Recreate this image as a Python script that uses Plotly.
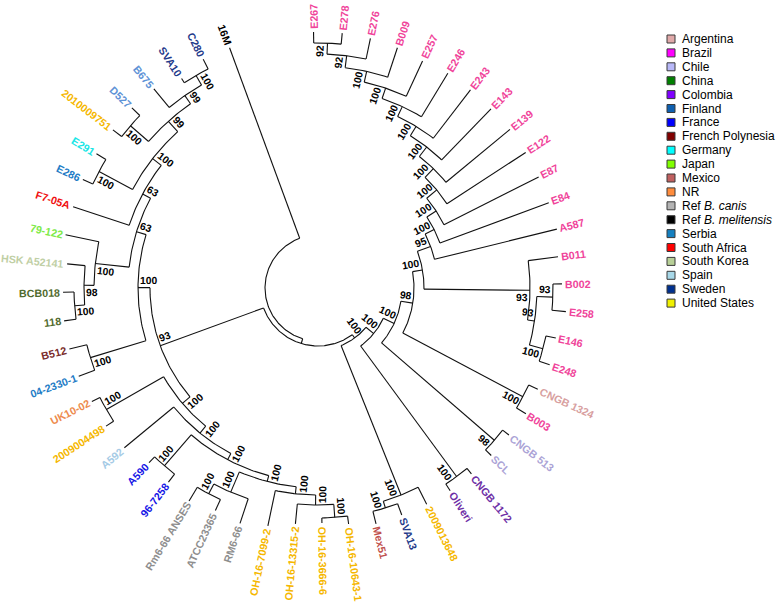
import math
import plotly.graph_objects as go

# ---------------- data ----------------
leaf_labels = ["E267", "E278", "E276", "B009", "E257", "E246", "E243", "E143", "E139", "E122",
               "E87", "E84", "A587", "B011", "B002", "E258", "E146", "E248", "CNGB 1324", "B003",
               "CNGB 513", "SCL", "CNGB 1172", "Oliveri", "2009013648", "SVA13", "Mex51",
               "OH-16-10643-1", "OH-16-3666-6", "OH-16-13315-2", "OH-16-7099-2", "RM6-66",
               "ATCC23365", "Rm6-66 ANSES", "96-7258", "A590", "A592", "2009004498", "UK10-02",
               "04-2330-1", "B512", "118", "BCB018", "HSK A52141", "79-122", "F7-05A", "E286",
               "E291", "2010009751", "D527", "B675", "SVA10", "C280", "16M"]
leaf_country = ["Brazil"] * 18 + ["Argentina", "Brazil", "Chile", "Chile", "Colombia", "Colombia",
                "United States", "Sweden", "Mexico", "United States", "United States", "United States",
                "United States", "Ref B. canis", "Ref B. canis", "Ref B. canis", "France", "France",
                "Spain", "United States", "NR", "Serbia", "French Polynesia", "China", "China",
                "South Korea", "Japan", "South Africa", "Serbia", "Germany", "United States",
                "Finland", "Finland", "Sweden", "Sweden", "Ref B. melitensis"]
leaf_depth = [256, 256, 255, 253, 250, 251, 250, 249, 249, 248,
              247, 246, 246, 242, 244, 249, 243, 244, 242, 243,
              241, 241, 241, 242, 242, 242, 243, 238, 235, 237,
              243, 248, 245, 249, 245, 243, 251, 253, 253, 255,
              256, 256, 255, 252, 258, 258, 259, 259, 259, 259,
              258, 250, 256, 256]

node_ids = ["p17", "p16", "p15", "p14", "p13", "p12", "p11", "p10", "p9", "p8", "p7", "p6",
            "bA", "bB", "bC", "bD", "p5", "c1", "p4", "c2", "p3", "c3", "p2", "m1", "m2", "NR",
            "o4", "o3", "o2", "r2", "r1", "H", "a1", "G", "F", "u1", "E",
            "s1", "k1", "k2", "k3", "w1", "w2", "d1", "w3", "g1", "w4", "w5", "w6", "U",
            "N93", "X", "root"]
node_children = [["E267", "E278"], ["p17", "E276"], ["p16", "B009"], ["p15", "E257"],
                 ["p14", "E246"], ["p13", "E243"], ["p12", "E143"], ["p11", "E139"],
                 ["p10", "E122"], ["p9", "E87"], ["p8", "E84"], ["p7", "A587"],
                 ["B002", "E258"], ["E248", "E146"], ["bA", "bB"], ["B011", "bC"], ["p6", "bD"],
                 ["B003", "CNGB 1324"], ["p5", "c1"], ["SCL", "CNGB 513"], ["p4", "c2"],
                 ["Oliveri", "CNGB 1172"], ["p3", "c3"], ["Mex51", "SVA13"], ["2009013648", "m1"],
                 ["p2", "m2"],
                 ["OH-16-10643-1", "OH-16-3666-6"], ["OH-16-13315-2", "o4"], ["OH-16-7099-2", "o3"],
                 ["Rm6-66 ANSES", "ATCC23365"], ["r2", "RM6-66"], ["r1", "o2"],
                 ["A590", "96-7258"], ["a1", "H"], ["A592", "G"], ["UK10-02", "2009004498"],
                 ["u1", "F"],
                 ["04-2330-1", "B512"], ["118", "BCB018"], ["HSK A52141", "k1"], ["79-122", "k2"],
                 ["C280", "SVA10"], ["B675", "w1"], ["2010009751", "D527"], ["d1", "w2"],
                 ["E286", "E291"], ["g1", "w3"], ["F7-05A", "w4"], ["k3", "w5"], ["s1", "w6"],
                 ["U", "E"], ["N93", "NR"], ["X", "16M"]]
node_depth = [245, 234, 222, 211, 200, 189, 178, 166, 154, 141, 130, 120,
              235, 233, 219, 212, 106, 232, 96, 233, 84, 234, 72, 230, 223, 62,
              230, 217, 207, 233, 222, 200, 235, 194, 187, 244, 178,
              238, 244, 234, 224, 245, 234, 248, 224, 248, 210, 199, 190, 180,
              168, 58, 53]
node_support = [92, 92, 100, 100, 100, 100, 100, 100, 100, 100, 100, 95,
                93, 100, 93, 93, 100, 100, 98, 98, 100, 100, 100, 100, 100, 100,
                100, 100, 100, 100, 100, 100, 100, 100, 100, 100, 100,
                100, 100, 98, 100, 100, 99, 100, 99, 100, 100, 63, 63, 100,
                93, None, None]

legend_countries = ["Argentina", "Brazil", "Chile", "China", "Colombia", "Finland", "France",
                    "French Polynesia", "Germany", "Japan", "Mexico", "NR", "Ref B. canis",
                    "Ref B. melitensis", "Serbia", "South Africa", "South Korea", "Spain",
                    "Sweden", "United States"]
legend_text = ["Argentina", "Brazil", "Chile", "China", "Colombia", "Finland", "France",
               "French Polynesia", "Germany", "Japan", "Mexico", "NR", "Ref <i>B. canis</i>",
               "Ref <i>B. melitensis</i>", "Serbia", "South Africa", "South Korea", "Spain",
               "Sweden", "United States"]
legend_colors = ["#E0A9A9", "#FF00FF", "#B8B8F8", "#008000", "#8000FF", "#0F60B0", "#0000FF",
                 "#800000", "#00FFFF", "#80FF00", "#C06060", "#FF8C3C", "#B4B4B4", "#000000",
                 "#1580C0", "#FF0000", "#B8D098", "#A8D8E8", "#00308F", "#F0F000"]
label_colors = ["#D8A0A0", "#F0449A", "#ABA3D6", "#516B2E", "#6E2FA6", "#5E92D6", "#1414E6",
                "#7B2D2D", "#19E6E6", "#7EEA48", "#C0504D", "#EE8B4E", "#8E8E8E", "#000000",
                "#1E7CC6", "#F01010", "#BFCFA5", "#A6CBE6", "#1F3A8A", "#F5B700"]

# ---------------- layout helpers ----------------
W, Hh = 778, 610
CX, CY = 318, 288
A0, STEP = -1.0, 6.43
FONT = "Liberation Sans, Arial, sans-serif"

AW = {'0': 556, '1': 556, '2': 556, '3': 556, '4': 556, '5': 556, '6': 556, '7': 556, '8': 556,
      '9': 556, '-': 333, ' ': 278, 'A': 722, 'B': 722, 'C': 722, 'D': 722, 'E': 667, 'F': 611,
      'G': 778, 'H': 722, 'I': 278, 'K': 722, 'L': 611, 'M': 833, 'N': 722, 'O': 778, 'P': 667,
      'R': 722, 'S': 667, 'T': 611, 'U': 722, 'V': 667, 'a': 556, 'e': 556, 'i': 278, 'l': 278,
      'r': 389, 'v': 556, 'x': 556, 'o': 611}


def text_w(s, size):
    return sum(AW.get(c, 600) for c in s) * size / 1000.0


def pt(r, th):
    t = math.radians(th)
    return CX + r * math.sin(t), CY - r * math.cos(t)


def rot_for(th):
    return th - 90 if th < 180 else th - 270


angle, depth, nleaf = {}, {}, {}
for i, name in enumerate(leaf_labels):
    angle[name] = A0 + i * STEP
    depth[name] = leaf_depth[i]
    nleaf[name] = 1
kids_of = dict(zip(node_ids, node_children))
for nid, d in zip(node_ids, node_depth):
    depth[nid] = d


def resolve(n):
    if n in angle:
        return angle[n]
    a = [resolve(k) for k in kids_of[n]]
    angle[n] = (min(a) + max(a)) / 2.0
    nleaf[n] = sum(nleaf[k] for k in kids_of[n])
    return angle[n]


for nid in node_ids:
    resolve(nid)

# ---------------- branches ----------------
xs, ys = [], []
for nid in node_ids:
    r = depth[nid]
    a = [angle[k] for k in kids_of[nid]]
    lo, hi = min(a), max(a)
    n = max(2, int((hi - lo) / 0.8) + 2)
    for j in range(n):
        x, y = pt(r, lo + (hi - lo) * j / (n - 1))
        xs.append(x); ys.append(y)
    xs.append(None); ys.append(None)
    for k in kids_of[nid]:
        x0, y0 = pt(r, angle[k])
        x1, y1 = pt(depth[k], angle[k])
        xs += [x0, x1, None]; ys += [y0, y1, None]

fig = go.Figure()
fig.add_trace(go.Scatter(x=xs, y=ys, mode="lines", line=dict(color="#111111", width=1.1),
                         hoverinfo="skip", showlegend=False))

annotations = []
col_map = dict(zip(legend_countries, label_colors))
LS = 10.7
for i, name in enumerate(leaf_labels):
    th = angle[name]
    w = text_w(name, LS)
    x, y = pt(depth[name] + 3 + w / 2, th)
    annotations.append(dict(x=x, y=y, xref="x", yref="y", text="<b>%s</b>" % name,
                            showarrow=False, textangle=rot_for(th), xanchor="center",
                            yanchor="middle", font=dict(family=FONT, size=LS,
                                                        color=col_map[leaf_country[i]])))

BS = 10.3
for nid, sup in zip(node_ids, node_support):
    if sup is None:
        continue
    th = angle[nid]
    ks = kids_of[nid]
    big = max(ks, key=lambda k: nleaf[k])
    side = 1 if angle[big] > th else -1
    s = str(sup)
    w = text_w(s, BS)
    x, y = pt(depth[nid] - (w / 2 + 2), th)
    t = math.radians(th)
    x += side * 7 * math.cos(t)
    y += side * 7 * math.sin(t)
    annotations.append(dict(x=x, y=y, xref="x", yref="y", text="<b>%s</b>" % s,
                            showarrow=False, textangle=rot_for(th), xanchor="center",
                            yanchor="middle", font=dict(family=FONT, size=BS, color="#000000")))

# ---------------- legend ----------------
LX, LY0, LDY = 671, 39, 13.9
ly = [LY0 + i * LDY for i in range(len(legend_countries))]
fig.add_trace(go.Scatter(x=[LX] * len(ly), y=ly, mode="markers",
                         marker=dict(symbol="square", size=8, color=legend_colors,
                                     line=dict(color="#3a3a3a", width=1)),
                         hoverinfo="skip", showlegend=False))
for t, yv in zip(legend_text, ly):
    annotations.append(dict(x=LX + 9, y=yv, xref="x", yref="y", text=t, showarrow=False,
                            xanchor="left", yanchor="middle",
                            font=dict(family=FONT, size=12, color="#000000")))

fig.update_layout(width=W, height=Hh, autosize=False,
                  margin=dict(l=0, r=0, t=0, b=0),
                  paper_bgcolor="white", plot_bgcolor="white", annotations=annotations,
                  xaxis=dict(range=[0, W], visible=False, fixedrange=True),
                  yaxis=dict(range=[Hh, 0], visible=False, fixedrange=True),
                  showlegend=False)
fig.write_html("out.html", config={"displayModeBar": False, "staticPlot": True},
               post_script="document.body.style.margin='0px';"
                           "document.body.style.overflow='hidden';")
